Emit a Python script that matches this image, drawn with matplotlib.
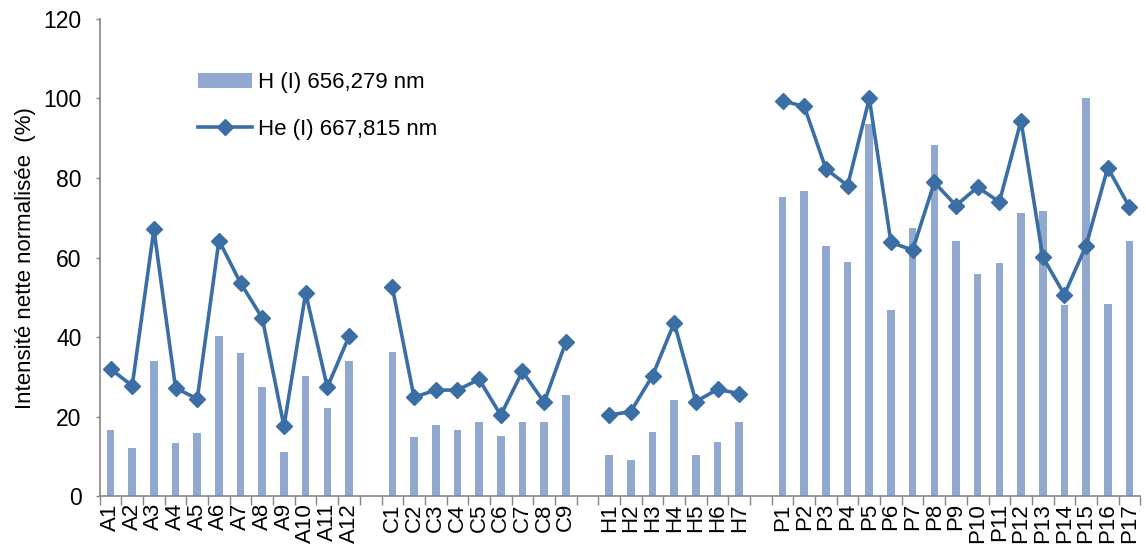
import numpy as np
import matplotlib
matplotlib.use("Agg")
import matplotlib.pyplot as plt

plt.rcParams['font.family'] = ['Liberation Sans', 'DejaVu Sans']

# sample groups, each with its labels and both series
groups = ['A', 'C', 'H', 'P']
labels = {
    'A': ['A%d' % i for i in range(1, 13)],
    'C': ['C%d' % i for i in range(1, 10)],
    'H': ['H%d' % i for i in range(1, 8)],
    'P': ['P%d' % i for i in range(1, 18)],
}
h_line = {
    'A': [16.7, 12.2, 33.9, 13.3, 15.8, 40.4, 35.9, 27.4, 11.2, 30.3, 22.2, 33.9],
    'C': [36.3, 14.8, 17.8, 16.7, 18.8, 15.2, 18.8, 18.8, 25.4],
    'H': [10.3, 9.2, 16.2, 24.3, 10.3, 13.7, 18.8],
    'P': [75.2, 76.7, 63.0, 59.0, 93.7, 46.9, 67.5, 88.2, 64.1, 55.9, 58.6,
          71.1, 71.6, 48.0, 100.2, 48.4, 64.1],
}
he_line = {
    'A': [32.0, 27.8, 67.1, 27.2, 24.5, 64.3, 53.6, 44.8, 17.6, 51.1, 27.4, 40.2],
    'C': [52.5, 24.9, 26.7, 26.7, 29.4, 20.4, 31.4, 23.6, 38.7],
    'H': [20.4, 21.3, 30.3, 43.6, 23.8, 26.9, 25.8],
    'P': [99.4, 98.0, 82.3, 78.1, 100.0, 63.8, 61.9, 78.9, 73.1, 77.7, 74.0,
          94.4, 60.2, 50.7, 63.0, 82.6, 72.7],
}

bar_color = '#91a9cf'
line_color = '#3a6ea5'
axis_color = '#868686'

fig = plt.figure(figsize=(11.46, 5.57), dpi=100)
ax = fig.add_axes([0.087, 0.109, 0.908, 0.857])

tick_pos = []
tick_lab = []
bar_h = line_h = None
start = 0
for g in groups:
    n = len(labels[g])
    x = np.arange(start, start + n)
    bars = ax.bar(x, h_line[g], width=0.35, color=bar_color, zorder=2)
    line, = ax.plot(x, he_line[g], color=line_color, lw=2.6, marker='D', ms=8,
                    zorder=3)
    if bar_h is None:
        bar_h, line_h = bars, line
    tick_pos += list(x)
    tick_lab += labels[g]
    start += n + 1

nslots = start - 1
ax.set_xlim(-0.5, nslots - 0.5)
ax.set_ylim(0, 120)
ax.set_yticks(np.arange(0, 121, 20))

ax.set_xticks(np.arange(-0.5, nslots, 1.0))
ax.set_xticklabels([])
ax.set_xticks(tick_pos, minor=True)
ax.set_xticklabels(tick_lab, minor=True, rotation=90, fontsize=16)
ax.tick_params(axis='x', which='major', length=6.5, width=1, color=axis_color, direction='out')
ax.tick_params(axis='x', which='minor', length=0, pad=5)
ax.tick_params(axis='y', length=3, width=1, color=axis_color, labelsize=16.5, pad=10)

for s in ['top', 'right']:
    ax.spines[s].set_visible(False)
for s in ['left', 'bottom']:
    ax.spines[s].set_color(axis_color)
    ax.spines[s].set_linewidth(1.2)

ax.set_ylabel('Intensité nette normalisée  (%)', fontsize=16, labelpad=5)

ax.legend([bar_h, line_h], ['H (I) 656,279 nm', 'He (I) 667,815 nm'],
          loc='upper left', bbox_to_anchor=(0.075, 0.93), frameon=False,
          fontsize=16, handlelength=2.45, labelspacing=1.15, handletextpad=0.25)

fig.savefig('out.png', dpi=100)
